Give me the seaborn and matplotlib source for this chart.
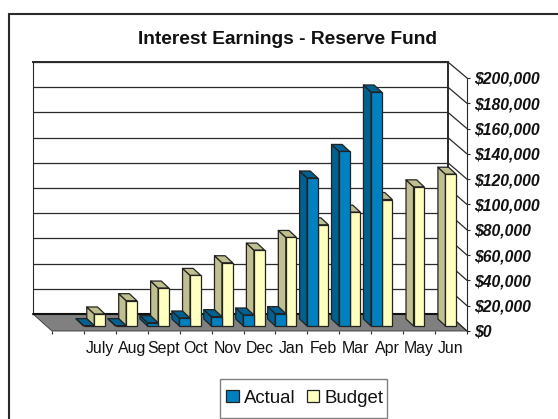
import matplotlib
matplotlib.use("Agg")
import matplotlib.pyplot as plt
import pandas as pd
import seaborn as sns
from matplotlib.lines import Line2D
from matplotlib.patches import Patch, Polygon, Rectangle

# Fiscal-year interest earnings
months = ["July", "Aug", "Sept", "Oct", "Nov", "Dec", "Jan", "Feb", "Mar", "Apr", "May", "Jun"]
actual = [300, 300, 2600, 6300, 7400, 8700, 9800, 117000, 138000, 185000]
budget = [9500, 20000, 30000, 40000, 50000, 60000, 70000, 80000, 90000, 100000, 110000, 120000]
y_ticks = list(range(0, 200001, 20000))
y_labels = [f"${v:,}" for v in y_ticks]

W, H = 558, 419
sns.set_theme(style="white")
plt.rcParams["font.family"] = ["Liberation Sans", "DejaVu Sans"]

fig = plt.figure(figsize=(W / 100, H / 100), dpi=100, facecolor="white")


def fx(x):
    return x / W


def fy(y):
    return 1 - y / H


def box(left, right, bottom, top):
    return [fx(left), fy(bottom), (right - left) / W, (bottom - top) / H]


# Pseudo-3D frame: back wall, then a front plane displaced down and right
BACK_L, BACK_R, BACK_T, BACK_B = 33, 448, 62, 314
SHIFT_X, SHIFT_Y = 19, 17
FRONT_L, FRONT_R = BACK_L + SHIFT_X, BACK_R + SHIFT_X
FRONT_T, FRONT_B = BACK_T + SHIFT_Y - 1, BACK_B + SHIFT_Y
INK = "#2a2a2a"

# Outer chart border, open on the right and at the bottom
fig.add_artist(Line2D([fx(9), fx(9), fx(W)], [fy(H), fy(14), fy(14)], color=INK, lw=1.5,
                      transform=fig.transFigure, solid_joinstyle="miter"))

wall = fig.add_axes(box(BACK_L, BACK_R, BACK_B, BACK_T), zorder=1, facecolor="white")
wall.set_xlim(0, 1)
wall.set_ylim(0, 200000)
wall.set_xticks([])
wall.set_yticks(y_ticks)
wall.tick_params(left=False, labelleft=False)
wall.grid(axis="y", color=INK, lw=0.9)
for name, spine in wall.spines.items():
    spine.set_color(INK)
    spine.set_linewidth(1.4 if name in ("top", "right") else 0.8)

# Floor and the diagonals of the right wall
floor = Polygon([(fx(BACK_L), fy(BACK_B)), (fx(BACK_R), fy(BACK_B)),
                 (fx(FRONT_R), fy(FRONT_B)), (fx(FRONT_L), fy(FRONT_B))],
                closed=True, facecolor="#808080", edgecolor="#333333", lw=0.6,
                transform=fig.transFigure, zorder=2)
fig.add_artist(floor)
fig.add_artist(Line2D([fx(BACK_L), fx(BACK_R)], [fy(BACK_B)] * 2, color="#111111", lw=1.5,
                      transform=fig.transFigure, zorder=2.1))
for v in y_ticks:
    yb = BACK_B - (BACK_B - BACK_T) * v / 200000
    yf = FRONT_B - (FRONT_B - FRONT_T) * v / 200000
    fig.add_artist(Line2D([fx(BACK_R), fx(FRONT_R)], [fy(yb), fy(yf)], color=INK, lw=0.9,
                          transform=fig.transFigure, zorder=2.1))

# Front plane carries both axes
front = fig.add_axes(box(FRONT_L, FRONT_R, FRONT_B, FRONT_T), zorder=3, facecolor="none")
front.set_xlim(-0.5, 12.5)
front.set_ylim(0, 200000)
front.set_xticks([i - 0.5 for i in range(14)])
front.set_xticklabels([])
front.set_xticks(range(1, 13), labels=months, minor=True)
front.yaxis.tick_right()
front.set_yticks(y_ticks, labels=y_labels)
front.tick_params(axis="x", which="major", bottom=True, length=2.4, width=0.8, color=INK)
front.tick_params(axis="x", which="minor", bottom=False, length=0, pad=7.5, labelsize=11.4, labelcolor="#111111")
front.tick_params(axis="y", right=True, length=2.4, width=0.8, color=INK, pad=3)
for label in front.get_yticklabels():
    label.set_fontsize(11.3)
    label.set_fontstyle("italic")
    label.set_fontweight("bold")
    label.set_color("#111111")
for name, spine in front.spines.items():
    spine.set_visible(name == "right")
    spine.set_color(INK)
    spine.set_linewidth(0.8)

# Bars stand a few pixels behind the front edge of the floor
BAR_SHIFT_X, BAR_SHIFT_Y = 5.6, 5
bars = fig.add_axes(box(FRONT_L - BAR_SHIFT_X, FRONT_R - BAR_SHIFT_X,
                        FRONT_B - BAR_SHIFT_Y, FRONT_T - BAR_SHIFT_Y),
                    zorder=4, facecolor="none")
table = pd.concat([
    pd.DataFrame({"month": months[:len(actual)], "value": actual, "series": "Actual"}),
    pd.DataFrame({"month": months, "value": budget, "series": "Budget"}),
])
face = {"Actual": "#0080C0", "Budget": "#FFFFC0"}
shade = {"Actual": "#006090", "Budget": "#BFBF90"}
sns.barplot(data=table, x="month", y="value", hue="series", order=[" "] + months,
            hue_order=["Actual", "Budget"], palette=face, width=0.667, gap=0, errorbar=None,
            edgecolor="#222222", linewidth=0.9, saturation=1, legend=False, ax=bars)
bars.set_xlim(-0.5, 12.5)
bars.set_ylim(0, 200000)
bars.axis("off")

# Side and top faces of each bar, receding up and to the left
DEPTH_X = 7.5 * 13 / (FRONT_R - FRONT_L)
DEPTH_Y = 7 * 200000 / (FRONT_B - FRONT_T)
for series, container, z in zip(["Actual", "Budget"], bars.containers, [6, 3]):
    for patch in container.patches:
        x0, x1 = patch.get_x(), patch.get_x() + patch.get_width()
        top = patch.get_height()
        patch.set_zorder(z + 1)
        patch.set_clip_on(False)
        side = [(x0, 0), (x0 - DEPTH_X, DEPTH_Y), (x0 - DEPTH_X, top + DEPTH_Y), (x0, top)]
        lid = [(x0, top), (x1, top), (x1 - DEPTH_X, top + DEPTH_Y), (x0 - DEPTH_X, top + DEPTH_Y)]
        for points in (side, lid):
            bars.add_patch(Polygon(points, closed=True, facecolor=shade[series], edgecolor="#222222",
                                   lw=0.9, zorder=z, clip_on=False, joinstyle="round"))

fig.text(fx(288), fy(39), "Interest Earnings - Reserve Fund", ha="center", va="center",
         fontsize=13.8, fontweight="bold", color="#111111")

# Legend frame sized on its own so the entries can sit tightly inside it
fig.add_artist(Rectangle((fx(220), fy(418)), 167 / W, 39 / H, facecolor="white", edgecolor="#808080",
                         lw=1.0, transform=fig.transFigure, zorder=4.8))
handles = [Patch(facecolor=face[s], edgecolor="#222222", lw=0.9) for s in ["Actual", "Budget"]]
legend = fig.legend(handles, ["Actual", "Budget"], ncol=2, loc="center",
                    bbox_to_anchor=(fx(305), fy(398)), fontsize=13.4, frameon=False,
                    handlelength=0.65, handleheight=0.65, handletextpad=0.3,
                    columnspacing=0.6, borderpad=0, borderaxespad=0, labelcolor="#111111")
legend.set_zorder(5)

fig.savefig("out.png", dpi=100)
